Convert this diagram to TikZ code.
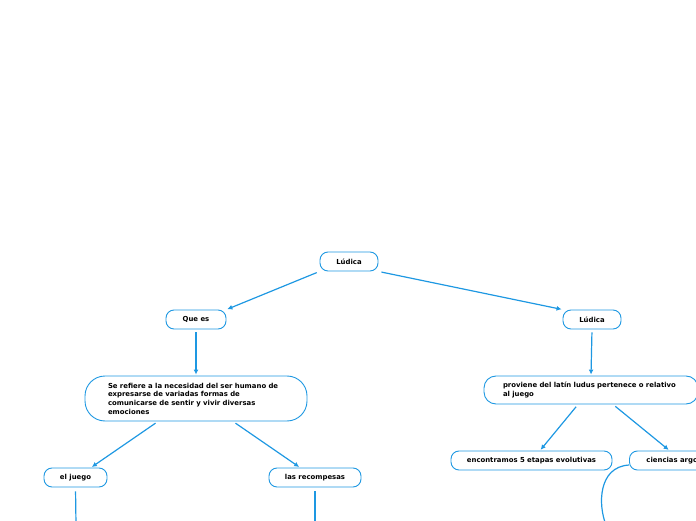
\documentclass[tikz,border=0pt]{standalone}
\usepackage{fontspec}
\setmainfont{DejaVu Sans}
\usepackage{tikz}
\usetikzlibrary{arrows.meta,positioning}
\definecolor{mapblue}{RGB}{30,152,226}

\begin{document}
\begin{tikzpicture}[
  x=1pt, y=1pt,
  font=\fontsize{6.9}{8.7}\selectfont\bfseries,
  idea/.style={
    draw=mapblue,
    line width=0.9pt,
    rounded corners=8pt,
    align=center,
    minimum height=19pt,
    inner ysep=2pt,
    fill=white
  },
  bigidea/.style={idea, rounded corners=20pt, align=left},
  link/.style={-{Latex[length=5pt,width=5pt]}, draw=mapblue, line width=1.2pt,
    shorten <=3pt, shorten >=1pt},
  tail/.style={draw=mapblue, line width=1.2pt, shorten <=4pt}
]
\useasboundingbox (0,0) rectangle (696,520);
\clip (0,0) rectangle (696,520);

% central topic
\node[idea, minimum width=58pt] (top) at (349,258.5) {Lúdica};

% left branch
\node[idea, minimum width=60pt] (quees) at (196,200.5) {Que es};
\node[bigidea, minimum width=222pt, minimum height=45pt, text width=176pt] (refiere) at (196,121.5)
  {Se refiere a la necesidad del ser humano de\\expresarse de variadas formas de\\comunicarse de sentir y vivir diversas\\emociones};
\node[idea, minimum width=63pt] (juego) at (75.5,42.5) {el juego};
\node[idea, minimum width=92pt] (recompensas) at (315,42.5) {las recompesas};

% right branch
\node[idea, minimum width=58pt] (ludica) at (592,200.5) {Lúdica};
\node[bigidea, minimum width=214pt, minimum height=28pt, text width=176pt, rounded corners=12pt] (proviene) at (591,130)
  {proviene del latín ludus pertenece o relativo\\al juego};
\node[idea, minimum width=161pt] (etapas) at (531.5,59.5) {encontramos 5 etapas evolutivas};
\node[idea, align=left, text width=80pt, inner xsep=17pt, anchor=west] (ciencias) at (629,59.5) {ciencias argo};

% free ends below the page
\coordinate (juegoend) at (76,-5);
\coordinate (recompensasend) at (315,-5);
\coordinate (cienciasend) at (606,-5);

\draw[link] (top.south west) -- (quees.north east);
\draw[link] (top.south east) -- (ludica.north west);
\draw[link] (quees.south) -- (refiere.north);
\draw[link] (ludica.south) -- (proviene.north);

\draw[link] ([xshift=-38pt]refiere.south) -- ([xshift=15.5pt]juego.north);
\draw[link] ([xshift=37pt]refiere.south) -- ([xshift=-15pt]recompensas.north);
\draw[link] ([xshift=-13pt]proviene.south) -- ([xshift=8.5pt]etapas.north);
\draw[link] ([xshift=22pt]proviene.south) -- ([xshift=-17pt]ciencias.north);

\draw[tail] (juego.south) -- (juegoend);
\draw[tail] (recompensas.south) -- (recompensasend);
\draw[draw=mapblue, line width=1.2pt] ([yshift=-4.5pt]ciencias.west)
  .. controls (598,53) and (598,15) .. (cienciasend);

\end{tikzpicture}
\end{document}
